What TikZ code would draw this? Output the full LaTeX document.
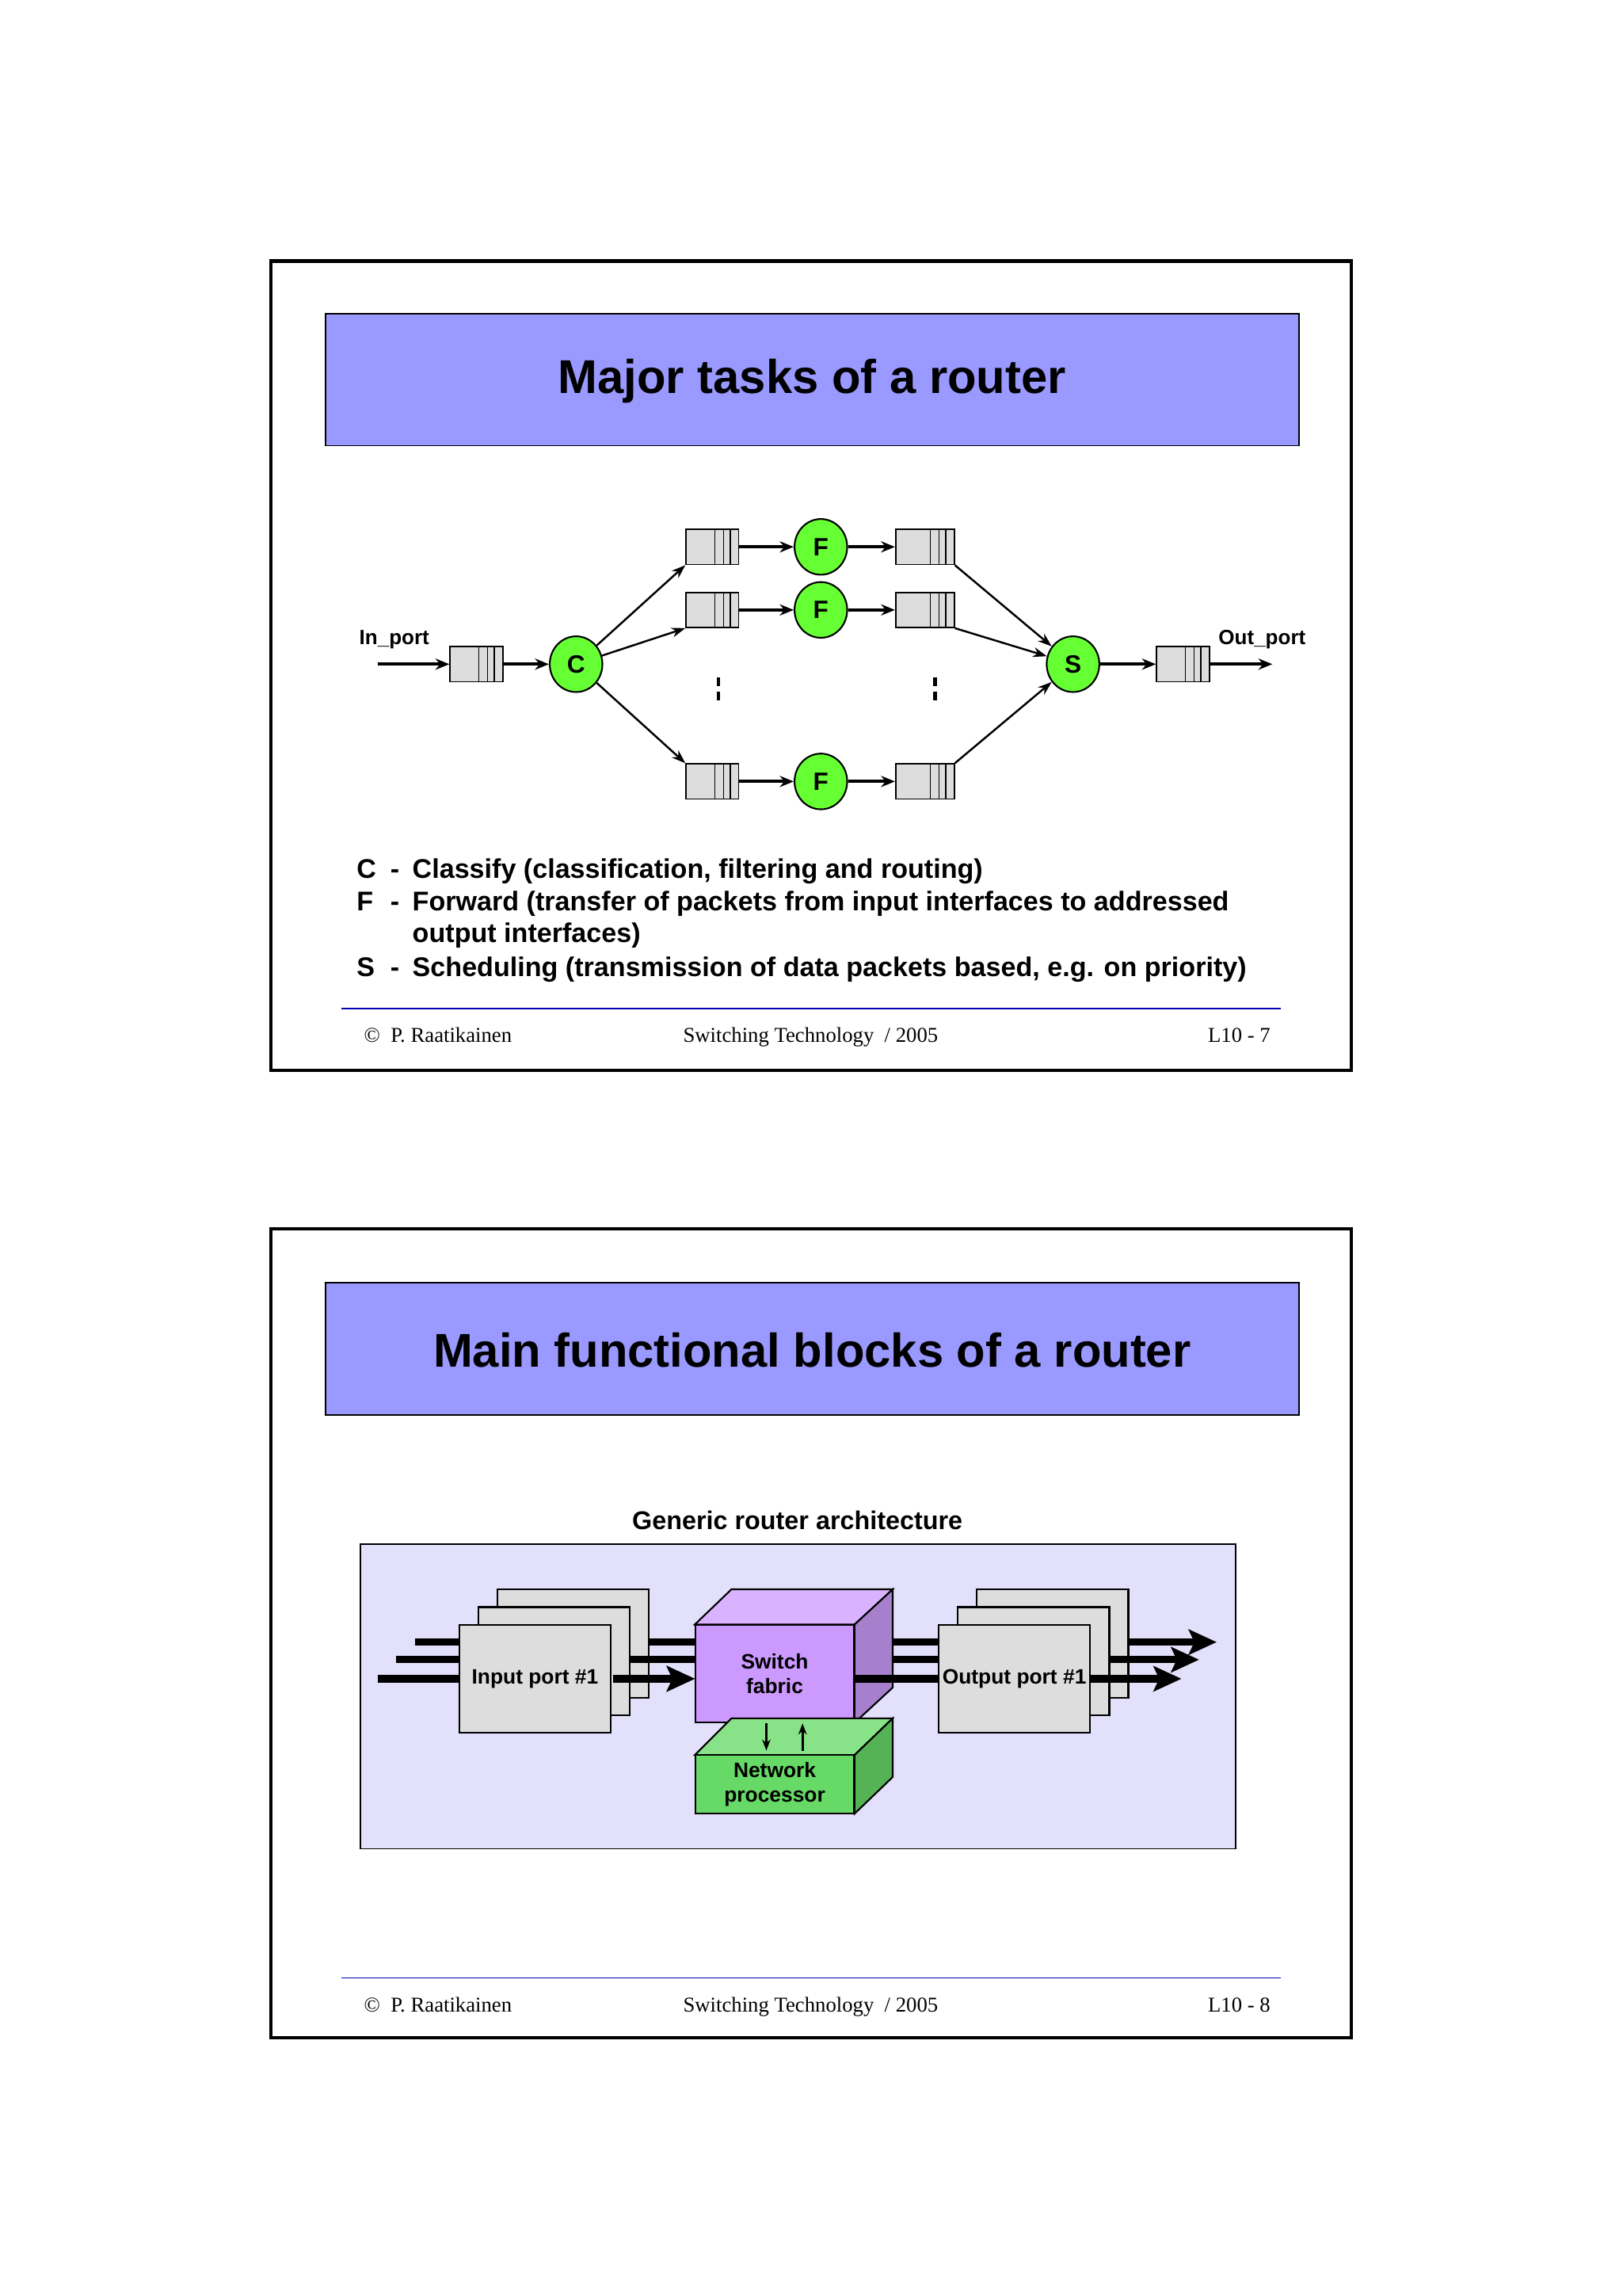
\documentclass[tikz,border=0pt]{standalone}
\usepackage{fontspec}
\setmainfont{Liberation Sans}
\newfontfamily\serif{Liberation Serif}
\usetikzlibrary{arrows.meta,shapes.geometric}
\definecolor{titlebg}{HTML}{9999FF}
\definecolor{qgray}{HTML}{DDDDDD}
\definecolor{cgreen}{HTML}{66FF33}
\definecolor{lav}{HTML}{E2E0FA}
\definecolor{fabF}{HTML}{CC99FF}
\definecolor{fabT}{HTML}{D9B3FF}
\definecolor{fabS}{HTML}{A680CC}
\definecolor{npF}{HTML}{66D966}
\definecolor{npT}{HTML}{88E388}
\definecolor{npS}{HTML}{55B355}
\begin{document}
\begin{tikzpicture}[x=0.185mm,y=-0.185mm,
  frame/.style={draw,line width=1.2pt},
  tbox/.style={draw,fill=titlebg,line width=0.5pt},
  ttl/.style={font=\bfseries\fontsize{17}{20}\selectfont},
  queue/.style={draw,fill=qgray,minimum width=18.9pt,minimum height=12.6pt,inner sep=0pt,line width=0.5pt,
    path picture={\foreach \d in {8.5pt,5.5pt,3pt}{\draw[line width=0.4pt] ([xshift=-\d]path picture bounding box.north east) -- ([xshift=-\d]path picture bounding box.south east);}}},
  rqueue/.style={queue,minimum width=21pt},
  proc/.style={ellipse,draw,fill=cgreen,minimum width=18.9pt,minimum height=20pt,inner sep=0pt,line width=0.6pt,font=\bfseries\fontsize{9}{10}\selectfont},
  harr/.style={line width=1.1pt,-{Stealth[length=5pt,width=4pt]}},
  darr/.style={line width=0.7pt,-{Stealth[length=5pt,width=3.5pt]}},
  lbl/.style={font=\bfseries\fontsize{7.4}{9}\selectfont},
  body/.style={font=\bfseries\fontsize{9.7}{11}\selectfont,anchor=base west,inner sep=0pt},
  foot/.style={font=\serif\fontsize{7.6}{9}\selectfont,inner sep=0pt},
  fl/.style={draw=blue!70!black,line width=0.5pt},
  pbox/.style={draw,fill=qgray,line width=0.6pt,minimum width=54.5pt,minimum height=38.8pt,inner sep=0pt},
  fat/.style={line width=2.6pt},
  fatA/.style={line width=2.6pt,-{Stealth[length=10pt,width=9pt,inset=2pt]}},
  small/.style={font=\bfseries\fontsize{7.5}{9}\selectfont,align=center}
]
\useasboundingbox (0,0) rectangle (1107,1566);
\fill[white] (0,0) rectangle (1107,1566);
%================ slide 1
\draw[frame] (185,178) rectangle (922,730);
\draw[tbox] (222,214) rectangle (886,304);
\node[ttl] (t1) at (554,260) {Major tasks of a router};

\node[queue] (qin) at (325,453) {};
\node[proc] (C) at (393,453) {C};
\node[proc] (S) at (732,453) {S};
\node[queue] (qout) at (807,453) {};
\coordinate (inS) at (258,453);
\coordinate (outE) at (868,453);
\node[lbl] (inl) at (269,436) {In\_port};
\node[lbl] (outl) at (861,436) {Out\_port};
\draw[harr] (inS) -- (qin);
\draw[harr] (qin) -- (C);
\draw[harr] (S) -- (qout);
\draw[harr] (qout) -- (outE);
\foreach \n/\y in {a/373,b/416,c/533}{
  \node[queue] (l\n) at (486,\y) {};
  \node[proc] (F\n) at (560,\y) {F};
  \node[rqueue] (r\n) at (631,\y) {};
  \draw[harr] (l\n) -- (F\n);
  \draw[harr] (F\n) -- (r\n);
}
\draw[darr] (C) -- (la.south west);
\draw[darr] (C) -- (lb.south west);
\draw[darr] (C) -- (lc.north west);
\draw[darr] (ra.south east) -- (S);
\draw[darr] (rb.south east) -- (S);
\draw[darr] (rc.north east) -- (S);
\foreach \x in {490,638}{
  \draw[line width=1.3pt,dash pattern=on 3pt off 2.2pt] (\x,462) -- (\x,479);
}
\node[body] (c1) at (243,599) {C};
\node[body] (c1d) at (266,599) {-};
\node[body] (c1t) at (281,599) {Classify (classification, filtering and routing)};
\node[body] (f1) at (243,621) {F};
\node[body] (f1d) at (266,621) {-};
\node[body] (f1t) at (281,621) {Forward (transfer of packets from input interfaces to addressed};
\node[body] (f2t) at (281,643) {output interfaces)};
\node[body] (s1) at (243,666) {S};
\node[body] (s1d) at (266,666) {-};
\node[body] (s1t) at (281,666) {Scheduling (transmission of data packets based, e.g. on priority)};
\draw[fl] (233,688) -- (874,688);
\node[foot,anchor=base west] (fa) at (248,711) {\textcopyright\ \ P. Raatikainen};
\node[foot,anchor=base] (fb) at (553,711) {Switching Technology \ / 2005};
\node[foot,anchor=base east] (fc) at (867,711) {L10 - 7};
%================ slide 2
\draw[frame] (185,838) rectangle (922,1390);
\draw[tbox] (222,875) rectangle (886,965);
\node[ttl] (t2) at (554,921) {Main functional blocks of a router};
\node[font=\bfseries\fontsize{9.2}{11}\selectfont] (gra) at (544,1037) {Generic router architecture};
\draw[fill=lav,line width=0.5pt] (246,1053) rectangle (843,1261);
% background arrows
\draw[fat] (283,1120) -- (474,1120);
\draw[fat] (270,1132) -- (474,1132);
\draw[fat] (609,1120) -- (690,1120);
\draw[fat] (597,1132) -- (690,1132);
\coordinate (ipS) at (258,1145);
\draw[fatA] (ipS) -- (474,1145);
% input ports
\foreach \dx/\dy in {26/-24,13/-12}{
  \node[pbox] at (365+\dx,1145+\dy) {};
}
\node[pbox] (ip) at (365,1145) {};
\node[small] at (365,1145) {Input port \#1};
% output ports
\foreach \dx/\dy in {26/-24,13/-12}{
  \node[pbox] at (692+\dx,1145+\dy) {};
}
\draw[fat] (430,1132) -- (474,1132);
\draw[fat] (443,1120) -- (474,1120);
\draw[fatA] (418,1145) -- (474,1145);
% switch fabric cube
\fill[fabT,draw=black,line width=0.6pt] (474,1108) -- (499,1084) -- (609,1084) -- (583,1108) -- cycle;
\fill[fabS,draw=black,line width=0.6pt] (583,1108) -- (609,1084) -- (609,1151) -- (583,1175) -- cycle;
\node[draw,fill=fabF,line width=0.6pt,minimum width=57.1pt,minimum height=35.1pt,inner sep=0pt,small] (sf) at (528.5,1141.5) {Switch\\fabric};
% network processor
\fill[npT,draw=black,line width=0.6pt] (474,1197) -- (499,1172) -- (609,1172) -- (583,1197) -- cycle;
\fill[npS,draw=black,line width=0.6pt] (583,1197) -- (609,1172) -- (609,1212) -- (583,1237) -- cycle;
\node[draw,fill=npF,line width=0.6pt,minimum width=57.1pt,minimum height=21pt,inner sep=0pt,small] (np) at (528.5,1217) {Network\\processor};
\draw[line width=0.9pt,-{Stealth[length=4pt,width=3pt]}] ([xshift=-3pt]sf.south) -- ([xshift=-3pt]sf.south |- 528,1194);
\draw[line width=0.9pt,-{Stealth[length=4pt,width=3pt]}] ([xshift=10pt]sf.south |- 528,1194) -- ([xshift=10pt]sf.south);
\coordinate (o1) at (830,1120);
\coordinate (o2) at (818,1132);
\coordinate (o3) at (806,1145);
\draw[fat] (583,1145) -- (640,1145);
\node[pbox] (op) at (692,1145) {};
\node[small] at (692,1145) {Output port \#1};
\draw[fatA] (770,1120) -- (o1);
\draw[fatA] (757,1132) -- (o2);
\draw[fatA] (744,1145) -- (o3);
\draw[fl] (233,1349) -- (874,1349);
\node[foot,anchor=base west] (ga) at (248,1372) {\textcopyright\ \ P. Raatikainen};
\node[foot,anchor=base] (gb) at (553,1372) {Switching Technology \ / 2005};
\node[foot,anchor=base east] (gc) at (867,1372) {L10 - 8};
\end{tikzpicture}
\end{document}
